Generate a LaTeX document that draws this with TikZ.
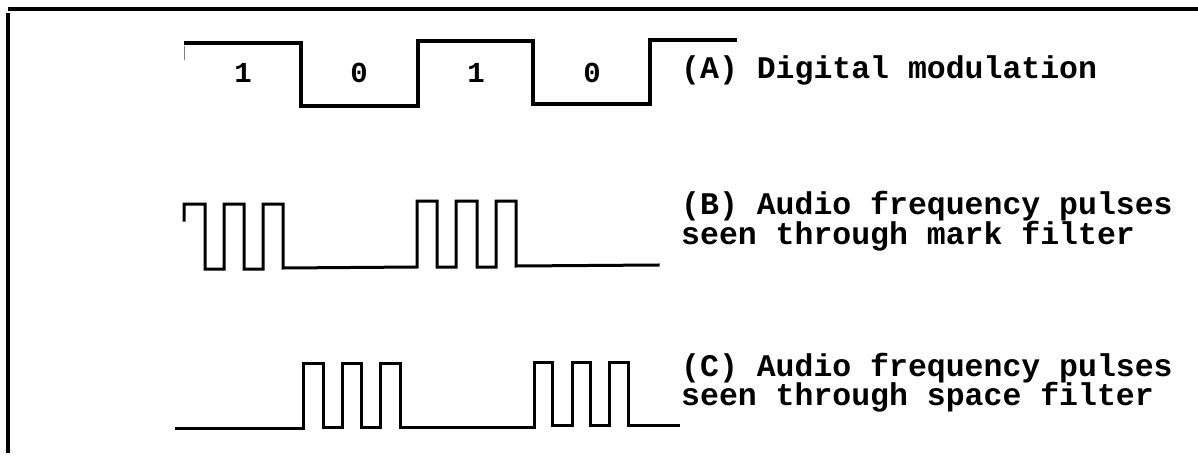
\documentclass[tikz,border=0pt]{standalone}
\usepackage{fontspec}
\newfontfamily\cour{Liberation Mono}
\begin{document}
\begin{tikzpicture}[x=1pt,y=-1pt,
  wave/.style={line width=3.6pt,line join=miter,line cap=rect},
  pulse/.style={line width=3pt,line join=miter,line cap=rect},
  frame/.style={line width=4pt},
  lbl/.style={anchor=base west,inner sep=0pt,font=\cour\bfseries\fontsize{31.5}{30}\selectfont},
  bit/.style={inner sep=0pt,font=\cour\bfseries\fontsize{29}{30}\selectfont}]
\useasboundingbox (0,0) rectangle (1198,455);
% frame
\coordinate (ftl) at (8,9);
\coordinate (ftr) at (1198,9);
\coordinate (fbl) at (8,453);
\draw[frame] (ftl) -- (ftr);
\draw[frame] (8,13) -- (fbl);
% (A) digital modulation
\draw[gray,line width=0.8pt] (184,46) -- (184,60);
\draw[wave] (186,43) -- (301,43) -- (301,106) -- (418,106) -- (418,41) -- (533,41) -- (533,104) -- (650,104) -- (650,40) -- (735,40);
\node[bit] (b1) at (243,73) {1};
\node[bit] (b2) at (359,73) {0};
\node[bit] (b3) at (476,73) {1};
\node[bit] (b4) at (592,73) {0};
\node[lbl] (la) at (681,78) {(A) Digital modulation};
% (B) mark filter
\draw[pulse] (184,220) -- (184,204) -- (205,204) -- (205,269) -- (224,269) -- (224,204) -- (244,204) -- (244,269) -- (263,269) -- (263,204) -- (283,204) -- (283,268)
  -- (417,267) -- (417,201) -- (437,201) -- (437,267) -- (456,267) -- (456,201) -- (477,201) -- (477,267) -- (496,267) -- (496,201) -- (516,201) -- (516,266) -- (658,265);
\node[lbl] (lb1) at (681,214) {(B) Audio frequency pulses};
\node[lbl] (lb2) at (681,244) {seen through mark filter};
% (C) space filter
\draw[pulse] (176,428) -- (303,428) -- (303,363) -- (323,363) -- (323,427) -- (342,427) -- (342,363) -- (361,363) -- (361,427) -- (380,427) -- (380,363) -- (400,363) -- (400,427)
  -- (534,427) -- (534,362) -- (552,362) -- (552,425) -- (572,425) -- (572,362) -- (590,362) -- (590,425) -- (609,425) -- (609,362) -- (628,362) -- (628,425) -- (678,425);
\node[lbl] (lc1) at (681,376) {(C) Audio frequency pulses};
\node[lbl] (lc2) at (681,405) {seen through space filter};
\end{tikzpicture}
\end{document}
